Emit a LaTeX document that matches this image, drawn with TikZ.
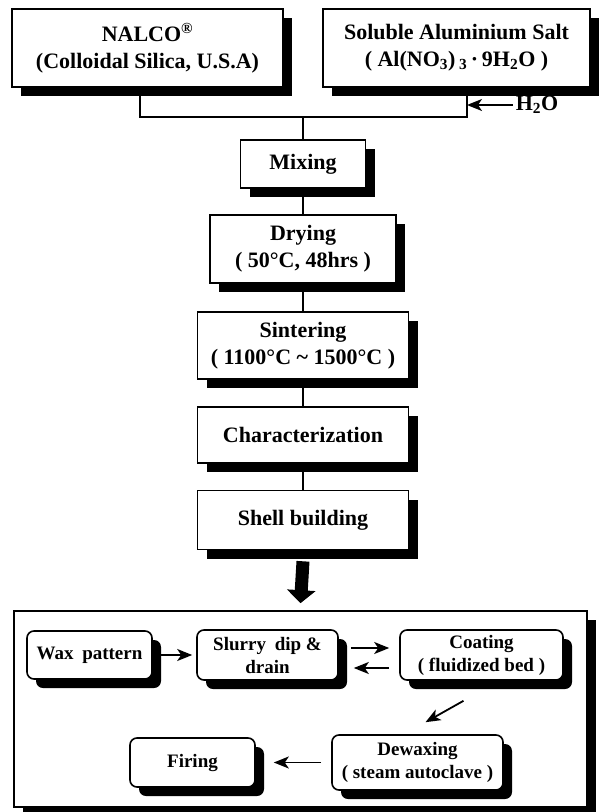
\documentclass[tikz,border=0pt]{standalone}
\usepackage{fontspec}
\setmainfont{Liberation Serif}
\usetikzlibrary{arrows.meta,shadows,calc}
\begin{document}
\begin{tikzpicture}[x=1pt,y=-1pt,
  every node/.style={font=\bfseries\fontsize{22}{27}\selectfont, align=center, inner sep=0pt},
  box/.style={draw, line width=1.6pt, fill=white,
    drop shadow={shadow xshift=9pt, shadow yshift=-9pt, fill=black, opacity=1}},
  rbox/.style={box, rounded corners=7pt, font=\bfseries\fontsize{19}{23}\selectfont},
  conn/.style={line width=2.2pt},
  arr/.style={line width=1.8pt, -{Stealth[length=15pt,width=12pt,inset=4pt]}},
  bigarrow/.style={line width=13pt, -{Triangle[length=13pt,width=28pt]}}]
\useasboundingbox (0,0) rectangle (600,812);

% top sources
\node[box, minimum width=271pt, minimum height=78pt] (nalco) at (147.5,48)
  {NALCO\textsuperscript{®}\\(Colloidal Silica, U.S.A)};
\node[box, minimum width=267pt, minimum height=78pt] (salt) at (456.5,48)
  {Soluble Aluminium Salt\\( Al(NO\textsubscript{3})\,\textsubscript{3}\,·\,9H\textsubscript{2}O )};

% main chain
\node[box, minimum width=125pt, minimum height=48pt] (mix) at (303,164) {Mixing};
\node[box, minimum width=186pt, minimum height=68pt] (dry) at (303,249) {Drying\\( 50°C, 48hrs )};
\node[box, minimum width=211pt, minimum height=67pt] (sint) at (303,345.5) {Sintering\\( 1100°C \textasciitilde{} 1500°C )};
\node[box, minimum width=211pt, minimum height=56pt] (char) at (303,435) {Characterization};
\node[box, minimum width=211pt, minimum height=59pt] (shell) at (303,520) {Shell building};

% junction
\coordinate (jl) at (140,117);
\coordinate (jr) at (467,117);
\coordinate (jc) at (303,117);
\draw[conn] (nalco.south -| jl) -- (jl) -- (jr) -- (salt.south -| jr);
\draw[conn] (jc) -- (mix.north);
\node (h2o) at (537,105) {H\textsubscript{2}O};
\draw[arr, shorten <=3pt] (h2o.west) -- (h2o.west -| jr);

\draw[conn] (mix) -- (dry);
\draw[conn] (dry) -- (sint);
\draw[conn] (sint) -- (char);
\draw[conn] (char) -- (shell);

% shell building stage
\node[box, minimum width=573pt, minimum height=196pt] (stage) at (300.5,709) {};
\draw[bigarrow] ([yshift=-11pt]shell.south) -- ([yshift=7pt]stage.north);

\node[rbox, minimum width=125pt, minimum height=48pt] (wax) at (89.5,655) {Wax\hspace{4pt} pattern};
\node[rbox, minimum width=141pt, minimum height=50pt] (slurry) at (267.5,655) {Slurry\hspace{4pt} dip \&\\drain};
\node[rbox, minimum width=163pt, minimum height=50pt] (coat) at (481.5,655) {Coating\\( fluidized bed )};
\node[rbox, minimum width=171pt, minimum height=55pt] (dewax) at (417.5,762.5) {Dewaxing\\( steam autoclave )};
\node[rbox, minimum width=125pt, minimum height=49pt] (firing) at (192.5,762.5) {Firing};

\draw[arr, shorten <=8pt, shorten >=4pt] (wax) -- (slurry);
\draw[arr, shorten <=12pt, shorten >=10pt] ([yshift=7pt]slurry.east) -- ([yshift=7pt]coat.west);
\draw[arr, shorten <=10pt, shorten >=15pt] ([yshift=-13pt]coat.west) -- ([yshift=-13pt]slurry.east);
\draw[arr] ([xshift=-18pt,yshift=-20pt]coat.south) -- ([xshift=8pt,yshift=12pt]dewax.north);
\draw[arr, shorten <=10pt, shorten >=18pt] (dewax) -- (firing);
\end{tikzpicture}
\end{document}
